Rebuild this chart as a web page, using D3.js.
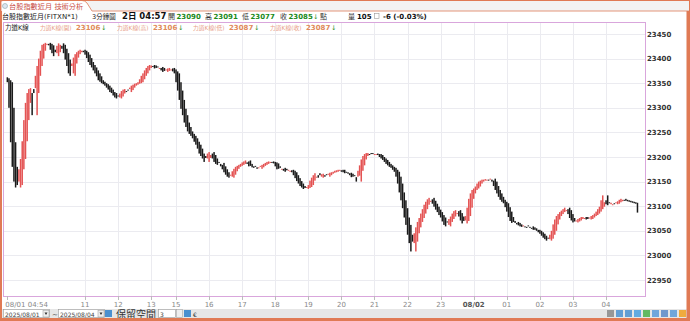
<!DOCTYPE html>
<html>
<head>
<meta charset="utf-8">
<script src="https://cdn.jsdelivr.net/npm/d3@7"></script>
<style>
  body { margin: 0; background: #fff; }
  svg { display: block; }
  text { font-family: "DejaVu Sans", "Noto Sans CJK TC", sans-serif; }
</style>
</head>
<body>
<svg id="chart" width="690" height="321"></svg>
<script>
// 3-minute power K-line closes
// 08/01 night session tail (04:54, 04:57)
let prevNight = [23352, 23300];
// 08/01 day session 08:45 - 13:42
let daySession = [
  23230,23180,23150,23138,23143,23175,23196,23232,
  23275,23310,23330,23338,23340,23285,23330,23365,23385,23400,
  23416,23428,23430,23432,23430,23427,23418,23411,23405,23413,
  23426,23431,23428,23420,23411,23398,23385,23370,23365,23390,
  23402,23409,23413,23416,23418,23416,23413,23408,23401,23393,
  23387,23382,23376,23370,23364,23356,23353,23350,23348,23345,
  23341,23337,23332,23330,23325,23321,23319,23323,23329,23334,
  23337,23338,23332,23336,23341,23345,23347,23349,23350,23352,
  23358,23365,23370,23376,23381,23385,23387,23386,23384,23380,
  23381,23383,23381,23376,23373,23375,23378,23380,23381,23378,
  23374,23370
];
// 08/01 15:00 - 08/02 04:57 night session
let nightSession = [
  23352,23335,23316,23298,23285,23270,23261,23252,
  23247,23243,23238,23231,23225,23217,23207,23202,23197,23190,
  23198,23207,23210,23204,23197,23190,23186,23184,23188,23181,
  23175,23169,23164,23160,23158,23164,23171,23176,23180,23182,
  23184,23186,23189,23191,23193,23186,23181,23182,23179,23178,
  23180,23176,23179,23182,23184,23186,23188,23190,23191,23190,
  23189,23187,23181,23175,23176,23178,23176,23172,23170,23173,
  23174,23172,23169,23163,23157,23151,23146,23141,23138,23135,
  23137,23139,23143,23152,23158,23163,23167,23160,23158,23163,
  23165,23166,23160,23163,23166,23168,23169,23170,23172,23173,
  23174,23174,23170,23169,23167,23168,23166,23163,23159,23160,
  23162,23150,23172,23183,23195,23202,23206,23208,23208,23205,
  23206,23207,23206,23206,23204,23200,23197,23194,23190,23186,
  23183,23180,23178,23174,23170,23160,23146,23128,23112,23096,
  23077,23062,23042,23025,23008,23028,23045,23057,23068,23076,
  23085,23094,23103,23109,23114,23117,23111,23105,23099,23093,
  23088,23082,23077,23069,23062,23059,23068,23074,23079,23085,
  23090,23092,23086,23079,23071,23065,23070,23080,23097,23115,
  23126,23133,23136,23140,23146,23150,23152,23154,23154,23155,
  23154,23152,23156,23150,23141,23133,23126,23119,23113,23109,
  23106,23098,23089,23078,23070,23066,23068,23066,23063,23061,
  23059,23058,23061,23058,23056,23059,23057,23055,23052,23052,
  23050,23047,23044,23040,23036,23033,23030,23034,23042,23050,
  23063,23073,23080,23084,23088,23091,23094,23097,23092,23084,
  23076,23071,23067,23069,23071,23074,23076,23078,23078,23076,
  23073,23074,23077,23080,23082,23085,23089,23094,23099,23112,
  23122,23108,23104,23102,23106,23107,23104,23105,23108,23110,
  23113,23115,23113,23112,23111,23110,23109,23108,23107,23106,
  23105,23087
];
// opens of the first bars (before a full look-back exists)
let leadOpens = [23362, 23360, 23356];
let lookBack = 3;

let yTicks = [22950, 23000, 23050, 23100, 23150, 23200, 23250, 23300, 23350, 23400, 23450];
let xTickBar = [0, 47, 67, 87, 102, 122, 142, 162, 182, 202, 222, 242, 262, 282, 302, 322, 342, 362];
let xTickText = ["08/01 04:54", "11", "12", "13", "15", "16", "17", "18", "19", "20",
                 "21", "22", "23", "08/02", "01", "02", "03", "04"];

let quoteNames = ["開", "高", "低", "收"];
let quoteValues = [23090, 23091, 23077, 23085];
let legendNames = ["力道K線(開)", "力道K線(高)", "力道K線(低)", "力道K線(收)"];
let legendValues = [23106, 23106, 23087, 23087];

// Build bars: body runs from the close a few bars back to this close
let closes = prevNight.concat(daySession, nightSession);
let bars = closes.map(function(c, i) {
  let o = i < lookBack ? leadOpens[i] : closes[i - lookBack];
  return { i: i, open: o, close: c };
});

const W = 690, H = 321;
const plot = { left: 3, right: 645, top: 22, bottom: 296 };
const svg = d3.select("#chart");

let x = d3.scaleBand()
  .domain(d3.range(closes.length))
  .range([6.5, 638.3]);
let y = d3.scaleLinear()
  .domain([22950, 23450])
  .range([280, 34]);
let cx = function(i) { return x(i) + x.bandwidth() / 2; };

// Frame
svg.append("rect").attr("width", W).attr("height", H).attr("fill", "#fff");
svg.append("rect").attr("x", 0).attr("y", 0).attr("width", W).attr("height", 11).attr("fill", "#f3f3f3");

// Title tab
svg.append("path")
  .attr("d", "M1,11 L1,2 Q1,0.5 3,0.5 L82,0.5 Q85,0.5 87,3 L92,11")
  .attr("fill", "#fff").attr("stroke", "#e3957a");
svg.append("line").attr("x1", 92).attr("x2", W).attr("y1", 11).attr("y2", 11)
  .attr("stroke", "#e3957a");
svg.append("circle").attr("cx", 5).attr("cy", 6).attr("r", 2.5)
  .attr("fill", "#dde6f0").attr("stroke", "#8aa").attr("stroke-width", 0.6);
svg.append("text").attr("x", 9).attr("y", 9).attr("font-size", 7.2)
  .attr("fill", "#c8504a").text("台股指數近月 技術分析");

// Quote line
let q = svg.append("g").attr("font-size", 7);
q.append("text").attr("x", 2).attr("y", 19).attr("fill", "#222").text("台股指數近月(FITXN*1)");
q.append("text").attr("x", 92).attr("y", 19).attr("fill", "#222").attr("font-size", 6.5).text("3分鐘圖");
q.append("text").attr("x", 122).attr("y", 19).attr("fill", "#111")
  .attr("font-weight", "bold").attr("font-size", 8.5).text("2日 04:57");
let quoteX = [168, 205, 242, 280];
quoteNames.forEach(function(n, k) {
  q.append("text").attr("x", quoteX[k]).attr("y", 19).attr("fill", "#333").text(n);
  q.append("text").attr("x", quoteX[k] + 8.5).attr("y", 19).attr("fill", "#1a8a1a")
    .attr("font-weight", "bold").text(quoteValues[k]);
});
q.append("text").attr("x", 313).attr("y", 19).attr("fill", "#1a8a1a").attr("font-size", 6.5).text("↓");
q.append("text").attr("x", 320).attr("y", 19).attr("fill", "#333").text("點");
q.append("text").attr("x", 348).attr("y", 19).attr("fill", "#333").text("量");
q.append("text").attr("x", 357).attr("y", 19).attr("fill", "#111").attr("font-weight", "bold").text("105");
q.append("rect").attr("x", 374.5).attr("y", 13.5).attr("width", 4.5).attr("height", 5)
  .attr("fill", "none").attr("stroke", "#999").attr("stroke-width", 0.6);
q.append("text").attr("x", 383).attr("y", 19).attr("fill", "#111").attr("font-weight", "bold")
  .text("-6 (-0.03%)");

// Plot area
svg.append("rect")
  .attr("x", plot.left).attr("y", plot.top)
  .attr("width", plot.right - plot.left).attr("height", plot.bottom - plot.top)
  .attr("fill", "#fff");

// Grid
svg.append("g").selectAll("line").data(yTicks).join("line")
  .attr("x1", plot.left).attr("x2", plot.right)
  .attr("y1", d => Math.round(y(d)) + 0.5).attr("y2", d => Math.round(y(d)) + 0.5)
  .attr("stroke", "#ebebf0");
svg.append("g").selectAll("line").data(xTickBar.slice(1)).join("line")
  .attr("x1", d => Math.round(cx(d)) + 0.5).attr("x2", d => Math.round(cx(d)) + 0.5)
  .attr("y1", plot.top).attr("y2", plot.bottom)
  .attr("stroke", "#ebebf0");

// Bars
svg.append("g").selectAll("rect").data(bars).join("rect")
  .attr("x", d => cx(d.i) - 0.75)
  .attr("width", 1.5)
  .attr("y", d => y(Math.max(d.open, d.close)))
  .attr("height", d => Math.max(1, Math.abs(y(d.open) - y(d.close))))
  .attr("fill", d => d.close >= d.open ? "#e45353" : "#1a1a1a");

// Plot border
svg.append("rect")
  .attr("x", plot.left + 0.5).attr("y", plot.top + 0.5)
  .attr("width", plot.right - plot.left).attr("height", plot.bottom - plot.top)
  .attr("fill", "none").attr("stroke", "#d9a6dc");

// Legend line inside the plot
let lg = svg.append("g");
lg.append("text").attr("x", 5).attr("y", 30).attr("font-size", 6.5).attr("fill", "#222").text("力道K線");
let legendX = [40, 117, 193, 270];
legendNames.forEach(function(n, k) {
  lg.append("text").attr("x", legendX[k]).attr("y", 30).attr("font-size", 5.8)
    .attr("fill", "#e8a088").text(n);
  lg.append("text").attr("x", legendX[k] + 36).attr("y", 30).attr("font-size", 7)
    .attr("fill", "#e08a5a").attr("font-weight", "bold").text(legendValues[k]);
  lg.append("text").attr("x", legendX[k] + 61).attr("y", 30).attr("fill", "#1a8a1a")
    .attr("font-size", 6.5).text("↓");
});

// Y axis labels
svg.append("g").selectAll("text").data(yTicks).join("text")
  .attr("x", 647).attr("y", d => y(d) + 2.5)
  .attr("font-size", 7).attr("font-weight", "bold").attr("fill", "#333")
  .text(d => d);

// X axis ticks and labels
svg.append("g").selectAll("line").data(xTickBar).join("line")
  .attr("x1", d => Math.round(cx(d)) + 0.5).attr("x2", d => Math.round(cx(d)) + 0.5)
  .attr("y1", plot.bottom).attr("y2", plot.bottom + 4)
  .attr("stroke", "#bbb");
svg.append("g").selectAll("text").data(xTickBar).join("text")
  .attr("x", (d, k) => k === 0 ? cx(d) - 2 : cx(d))
  .attr("y", 307)
  .attr("text-anchor", (d, k) => k === 0 ? "start" : "middle")
  .attr("font-size", 7)
  .attr("font-weight", (d, k) => xTickText[k] === "08/02" ? "bold" : "normal")
  .attr("fill", (d, k) => xTickText[k] === "08/02" ? "#555" : "#888")
  .text((d, k) => xTickText[k]);

// Bottom toolbar
let tb = svg.append("g");
tb.append("rect").attr("x", 2).attr("y", 309).attr("width", 685).attr("height", 9).attr("fill", "#e6e6e6");
[[3, "2025/08/01"], [58, "2025/08/04"]].forEach(function(p) {
  tb.append("rect").attr("x", p[0] + 0.5).attr("y", 309.5).attr("width", 46).attr("height", 8)
    .attr("fill", "#fff").attr("stroke", "#999").attr("stroke-width", 0.6);
  tb.append("text").attr("x", p[0] + 2).attr("y", 316.5).attr("font-size", 6).attr("fill", "#444").text(p[1]);
  tb.append("rect").attr("x", p[0] + 40).attr("y", 310.5).attr("width", 6).attr("height", 6.5)
    .attr("fill", "#eee").attr("stroke", "#999").attr("stroke-width", 0.5);
  tb.append("path").attr("d", `M${p[0] + 41.5},312.5 L${p[0] + 44.5},312.5 L${p[0] + 43},315 Z`).attr("fill", "#333");
});
tb.append("text").attr("x", 52).attr("y", 316.5).attr("font-size", 7).attr("fill", "#333").text("~");
tb.append("rect").attr("x", 105).attr("y", 310).attr("width", 7).attr("height", 7).attr("fill", "#4a90d0");
tb.append("text").attr("x", 116).attr("y", 318).attr("font-size", 10).attr("fill", "#333").text("保留空間");
tb.append("rect").attr("x", 158.5).attr("y", 309.5).attr("width", 17).attr("height", 8)
  .attr("fill", "#fff").attr("stroke", "#999").attr("stroke-width", 0.6);
tb.append("text").attr("x", 160).attr("y", 316.5).attr("font-size", 6).attr("fill", "#444").text("3");
tb.append("rect").attr("x", 176.5).attr("y", 309.5).attr("width", 6).attr("height", 8)
  .attr("fill", "#eee").attr("stroke", "#999").attr("stroke-width", 0.5);
tb.append("rect").attr("x", 184).attr("y", 310).attr("width", 7).attr("height", 7).attr("fill", "#4a90d0");
tb.append("text").attr("x", 193).attr("y", 316.5).attr("font-size", 6).attr("fill", "#333").text("€");

let iconColors = ["#888", "#4a90d0", "#4a90d0", "#4aa0e0", "#4ab04a", "#5a9ad8", "#5a8ac8", "#5a9ad8", "#f0a020"];
tb.selectAll(".ic").data(iconColors).join("rect").attr("class", "ic")
  .attr("x", (d, k) => 607 + k * 9).attr("y", 310).attr("width", 7).attr("height", 7)
  .attr("fill", d => d).attr("opacity", 0.85);

// Outer border
svg.append("rect").attr("x", 0.5).attr("y", 0.5).attr("width", W - 1).attr("height", H - 1)
  .attr("fill", "none").attr("stroke", "#e07a55").attr("stroke-width", 1);
svg.append("line").attr("x1", 1).attr("x2", 1).attr("y1", 11).attr("y2", H)
  .attr("stroke", "#e07a55").attr("stroke-width", 2);
svg.append("line").attr("x1", 688).attr("x2", 688).attr("y1", 11).attr("y2", H)
  .attr("stroke", "#e07a55").attr("stroke-width", 3);
svg.append("line").attr("x1", 0).attr("x2", W).attr("y1", 319.5).attr("y2", 319.5)
  .attr("stroke", "#e07a55").attr("stroke-width", 3);
</script>
</body>
</html>
